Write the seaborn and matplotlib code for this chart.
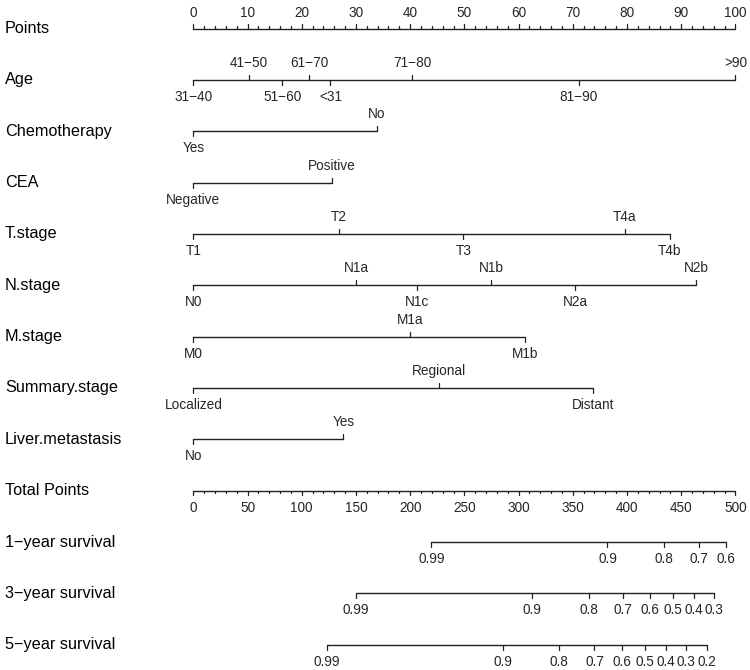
import numpy as np
import pandas as pd
import seaborn as sns
import matplotlib
matplotlib.use('Agg')
import matplotlib.pyplot as plt

# 数据：每个变量的取值与对应分数（0-100 分）
age_labels = ['31\u221240', '41\u221250', '51\u221260', '61\u221270', '<31', '71\u221280', '81\u221290', '>90']
age_points = [0, 10.3, 16.4, 21.4, 25.3, 40.4, 71.1, 100]
chemo_labels = ['Yes', 'No']
chemo_points = [0, 33.9]
cea_labels = ['Negative', 'Positive']
cea_points = [0, 25.5]
t_labels = ['T1', 'T2', 'T3', 'T4a', 'T4b']
t_points = [0, 26.9, 49.8, 79.6, 87.9]
n_labels = ['N0', 'N1a', 'N1c', 'N1b', 'N2a', 'N2b']
n_points = [0, 30.0, 41.2, 54.9, 70.5, 92.8]
m_labels = ['M0', 'M1a', 'M1b']
m_points = [0, 40.0, 61.2]
summary_labels = ['Localized', 'Regional', 'Distant']
summary_points = [0, 45.4, 73.7]
liver_labels = ['No', 'Yes']
liver_points = [0, 27.7]

# 生存概率刻度对应的总分（0-500）
surv1_labels = ['0.99', '0.9', '0.8', '0.7', '0.6']
surv1_total = [219.5, 382, 434, 466.5, 491.5]
surv3_labels = ['0.99', '0.9', '0.8', '0.7', '0.6', '0.5', '0.4', '0.3']
surv3_total = [150, 312, 364.5, 396.5, 421.5, 442.5, 462, 480.5]
surv5_labels = ['0.99', '0.9', '0.8', '0.7', '0.6', '0.5', '0.4', '0.3', '0.2']
surv5_total = [123.5, 285.5, 337.5, 370, 395, 416.5, 436, 454.5, 474]

variables = [
    ('Age', age_labels, age_points),
    ('Chemotherapy', chemo_labels, chemo_points),
    ('CEA', cea_labels, cea_points),
    ('T.stage', t_labels, t_points),
    ('N.stage', n_labels, n_points),
    ('M.stage', m_labels, m_points),
    ('Summary.stage', summary_labels, summary_points),
    ('Liver.metastasis', liver_labels, liver_points),
]
survivals = [
    ('1\u2212year survival', surv1_labels, surv1_total),
    ('3\u2212year survival', surv3_labels, surv3_total),
    ('5\u2212year survival', surv5_labels, surv5_total),
]

sns.set_theme(style='white')
plt.rcParams['font.family'] = ['Liberation Sans', 'DejaVu Sans']

fig = plt.figure(figsize=(7.5, 6.7), dpi=100)
ax = fig.add_axes([0, 0, 1, 1])
ax.set_xlim(-35.66, 102.69)
ax.set_ylim(670, 0)
ax.axis('off')

row_y = 28.5 + 51.35 * np.arange(13)
label_fs = 11.7
tick_fs = 9.8
lc = '#222222'

# 把所有刻度轴的线段放到一个长表里，用 seaborn 一次画出来
segs = []
segs.append(dict(row='Points', x=0, y=row_y[0]))
segs.append(dict(row='Points', x=100, y=row_y[0]))
for i, (name, labs, pts) in enumerate(variables):
    segs.append(dict(row=name, x=min(pts), y=row_y[i + 1]))
    segs.append(dict(row=name, x=max(pts), y=row_y[i + 1]))
segs.append(dict(row='Total Points', x=0, y=row_y[9]))
segs.append(dict(row='Total Points', x=100, y=row_y[9]))
for j, (name, labs, tot) in enumerate(survivals):
    segs.append(dict(row=name, x=min(tot) / 5, y=row_y[10 + j]))
    segs.append(dict(row=name, x=max(tot) / 5, y=row_y[10 + j]))
segs = pd.DataFrame(segs)
sns.lineplot(data=segs, x='x', y='y', units='row', estimator=None, color=lc,
             linewidth=1.0, sort=False, legend=False, ax=ax)

# 左侧的行名
row_names = ['Points'] + [v[0] for v in variables] + ['Total Points'] + [s[0] for s in survivals]
for name, y in zip(row_names, row_y):
    ax.text(-34.75, y, name, fontsize=label_fs, ha='left', va='center', color='black')

# Points 轴：刻度朝上，标签在上
y0 = row_y[0]
for v in range(0, 101, 2):
    L = 5 if v % 10 == 0 else 2.5
    ax.plot([v, v], [y0, y0 - L], color=lc, lw=0.9)
for v in range(0, 101, 10):
    ax.text(v, y0 - 15.5, str(v), fontsize=tick_fs, ha='center', va='center')

# 各变量轴：标签上下交替，刻度朝向标签
for i, (name, labs, pts) in enumerate(variables):
    y = row_y[i + 1]
    order = np.argsort(pts)
    for k, idx in enumerate(order):
        up = (k % 2 == 1)
        s = -1 if up else 1
        ax.plot([pts[idx], pts[idx]], [y, y + s * 5], color=lc, lw=0.9)
        ax.text(pts[idx], y + s * 17, labs[idx], fontsize=tick_fs, ha='center', va='center')

# Total Points 轴：刻度朝下，标签在下
yt = row_y[9]
for v in range(0, 501, 10):
    L = 4.5 if v % 50 == 0 else 2.5
    ax.plot([v / 5, v / 5], [yt, yt + L], color=lc, lw=0.9)
for v in range(0, 501, 50):
    ax.text(v / 5, yt + 17.5, str(v), fontsize=tick_fs, ha='center', va='center')

# 生存概率轴
for j, (name, labs, tot) in enumerate(survivals):
    y = row_y[10 + j]
    for lab, t in zip(labs, tot):
        ax.plot([t / 5, t / 5], [y, y + 5], color=lc, lw=0.9)
        ax.text(t / 5, y + 17, lab, fontsize=tick_fs, ha='center', va='center')

fig.savefig('out.png', dpi=100, facecolor='white')
